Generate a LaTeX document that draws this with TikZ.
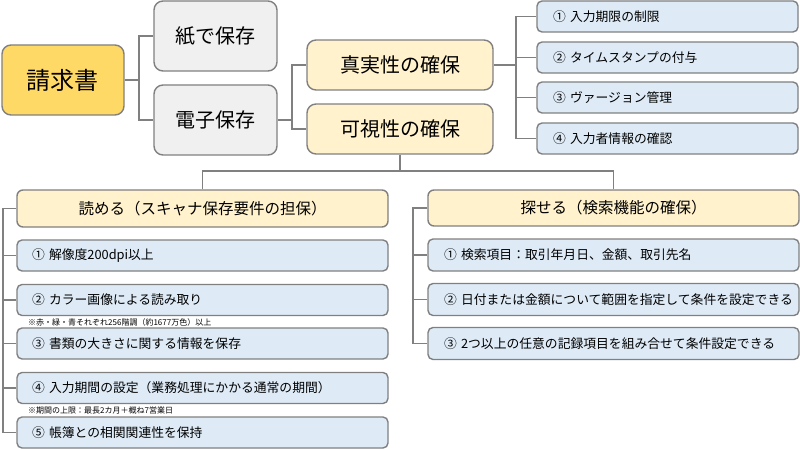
\documentclass[tikz,border=0pt]{standalone}
\usepackage{fontspec}
\setmainfont{Noto Sans CJK JP}
\definecolor{gold}{HTML}{FFD966}
\definecolor{paleY}{HTML}{FFF2CC}
\definecolor{paleB}{HTML}{DEEBF7}
\definecolor{paleG}{HTML}{F0F0F0}
\definecolor{edge}{HTML}{808080}
\begin{document}
\begin{tikzpicture}[x=1pt,y=-1pt,
  base/.style={draw=edge, line width=1.4pt, inner sep=0pt, text=black},
  bigbox/.style={base, rounded corners=9pt, font=\fontsize{20}{22}\selectfont},
  midbox/.style={base, fill=paleY, rounded corners=6pt, font=\fontsize{15.5}{18}\selectfont},
  itembox/.style={base, fill=paleB, rounded corners=5pt, font=\fontsize{12.8}{15}\selectfont, align=left, inner ysep=0pt},
  note/.style={inner sep=0pt, anchor=west, font=\fontsize{8}{9}\selectfont},
  conn/.style={draw=edge, line width=1.4pt}]
\useasboundingbox (0,0) rectangle (800,449);
% top-level
\node[bigbox, fill=gold, minimum width=122pt, minimum height=70pt, font=\fontsize{24}{26}\selectfont] (req) at (63,80) {請求書};
\node[bigbox, fill=paleG, minimum width=123pt, minimum height=70pt] (paper) at (215.5,36) {紙で保存};
\node[bigbox, fill=paleG, minimum width=123pt, minimum height=70pt] (elec) at (215.5,120) {電子保存};
\node[bigbox, fill=paleY, minimum width=186pt, minimum height=50pt] (shin) at (400,65) {真実性の確保};
\node[bigbox, fill=paleY, minimum width=186pt, minimum height=50pt] (kashi) at (400,129) {可視性の確保};
% right items
\foreach \n/\y/\t in {s1/16.5/{① 入力期限の制限}, s2/57.5/{② タイムスタンプの付与}, s3/97.5/{③ ヴァージョン管理}, s4/138.5/{④ 入力者情報の確認}}{
  \node[itembox, minimum height=31pt, inner xsep=16pt, text width=229pt] (\n) at (667.5,\y) {\t};
}
% mid boxes
\node[midbox, minimum width=371pt, minimum height=37pt] (yomu) at (202.5,208.5) {読める（スキャナ保存要件の担保）};
\node[midbox, minimum width=371pt, minimum height=36pt] (saga) at (613.5,208) {探せる（検索機能の確保）};
% left items
\foreach \n/\y/\t in {l1/255.5/{① 解像度200dpi以上}, l2/300/{② カラー画像による読み取り}, l3/343.5/{③ 書類の大きさに関する情報を保存}, l4/388/{④ 入力期間の設定（業務処理にかかる通常の期間）}, l5/432.5/{⑤ 帳簿との相関関連性を保持}}{
  \node[itembox, minimum height=31pt, inner xsep=15pt, text width=341pt] (\n) at (202.5,\y) {\t};
}
\node[note] (n1) at (28,322) {※赤・緑・青それぞれ256階調（約1677万色）以上};
\node[note] (n2) at (28,410.5) {※期間の上限：最長2カ月＋概ね7営業日};
% right lower items
\foreach \n/\y/\t in {r1/255/{① 検索項目：取引年月日、金額、取引先名}, r2/299.5/{② 日付または金額について範囲を指定して条件を設定できる}, r3/343.5/{③ 2つ以上の任意の記録項目を組み合せて条件設定できる}}{
  \node[itembox, minimum height=32pt, inner xsep=16pt, text width=339pt] (\n) at (613.5,\y) {\t};
}
% connectors
\coordinate (j1) at (139,80);
\draw[conn] (req.east) -- (j1) |- (paper.west);
\draw[conn] (j1) |- (elec.west);
\coordinate (j2) at (292,120);
\draw[conn] (elec.east) -- (j2) |- (shin.west);
\draw[conn] (j2) |- (kashi.west);
\coordinate (j3) at (516,65);
\draw[conn] (shin.east) -- (j3) |- (s1.west);
\foreach \n in {s2,s3,s4} \draw[conn] (j3) |- (\n.west);
\coordinate (j4) at (400,171);
\draw[conn] (kashi.south) -- (j4) -| (yomu.north);
\draw[conn] (j4) -| (saga.north);
\coordinate (j5) at (3,208.5);
\draw[conn] (yomu.west) -- (j5) |- (l5.west);
\foreach \n in {l1,l2,l3,l4} \draw[conn] (j5) |- (\n.west);
\coordinate (j6) at (413,208);
\draw[conn] (saga.west) -- (j6) |- (r3.west);
\foreach \n in {r1,r2} \draw[conn] (j6) |- (\n.west);
\end{tikzpicture}
\end{document}
